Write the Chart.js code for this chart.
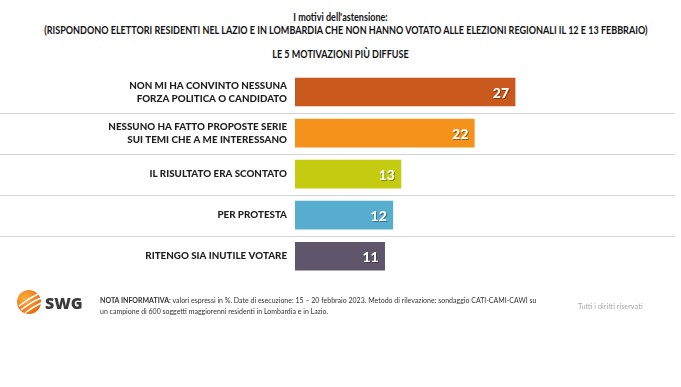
<!DOCTYPE html>
<html>
<head>
<meta charset="utf-8">
<script src="https://cdn.jsdelivr.net/npm/chart.js@4.4.1/dist/chart.umd.min.js"></script>
<style>
  html, body { margin: 0; padding: 0; background: #fff; }
  body { width: 681px; height: 387px; position: relative; overflow: hidden; font-family: Lato, "Open Sans", sans-serif; color: #222; }
  #wrap { position: absolute; left: 0; top: 0; width: 681px; height: 298px; }
  .t { position: absolute; left: 0; width: 681px; text-align: center; font-weight: bold; font-size: 10.4px; white-space: nowrap; transform: scaleX(0.87); color: #111; }
  #logo { position: absolute; left: 16px; top: 289px; }
  #swg { position: absolute; left: 45px; top: 292px; font-family: "Open Sans", sans-serif; font-weight: 800; font-size: 16px; color: #3a3a3a; }
  #note { position: absolute; left: 100px; top: 295px; font-size: 7px; line-height: 11px; color: #333; }
  #rights { position: absolute; left: 578px; top: 302px; font-size: 7.3px; color: #aaa; }
</style>
</head>
<body>
<div class="t" style="top:11px">I motivi dell'astensione:</div>
<div class="t" style="top:24px">(RISPONDONO ELETTORI RESIDENTI NEL LAZIO E IN LOMBARDIA CHE NON HANNO VOTATO ALLE ELEZIONI REGIONALI IL 12 E 13 FEBBRAIO)</div>
<div class="t" style="top:48px">LE 5 MOTIVAZIONI PIÙ DIFFUSE</div>
<div id="wrap"><canvas id="chart"></canvas></div>
<svg id="logo" width="26" height="26" viewBox="0 0 26 26">
  <defs>
    <radialGradient id="g" cx="35%" cy="35%" r="70%">
      <stop offset="0%" stop-color="#fbb040"/>
      <stop offset="100%" stop-color="#e86a10"/>
    </radialGradient>
  </defs>
  <circle cx="13" cy="13" r="12" fill="url(#g)"/>
  <path d="M3 17 Q13 9 24 4" stroke="#fff" stroke-width="1.4" fill="none"/>
  <path d="M5 21 Q15 13 25 9" stroke="#fff" stroke-width="1.4" fill="none"/>
  <path d="M9 24 Q17 18 25 14" stroke="#fff" stroke-width="1.4" fill="none"/>
</svg>
<div id="swg">SWG</div>
<div id="note"><b>NOTA INFORMATIVA:</b> valori espressi in %. Date di esecuzione: 15 – 20 febbraio 2023. Metodo di rilevazione: sondaggio CATI-CAMI-CAWI su<br>un campione di 600 soggetti maggiorenni residenti in Lombardia e in Lazio.</div>
<div id="rights">Tutti i diritti riservati</div>
<script>
const labels = [
  ['NON MI HA CONVINTO NESSUNA', 'FORZA POLITICA O CANDIDATO'],
  ['NESSUNO HA FATTO PROPOSTE SERIE', 'SUI TEMI CHE A ME INTERESSANO'],
  'IL RISULTATO ERA SCONTATO',
  'PER PROTESTA',
  'RITENGO SIA INUTILE VOTARE'
];
const values = [27, 22, 13, 12, 11];
const colors = ['#c9581c', '#f4921c', '#c4cb10', '#56adcd', '#5f566c'];

// lines between the categories, across the full width
const separators = {
  id: 'separators',
  beforeDatasetsDraw(chart) {
    const y = chart.scales.y;
    const ctx = chart.ctx;
    ctx.save();
    ctx.strokeStyle = '#d4d4d4';
    ctx.lineWidth = 1;
    for (let i = 0; i < values.length - 1; i++) {
      const py = Math.round((y.getPixelForValue(i) + y.getPixelForValue(i + 1)) / 2) + 0.5;
      ctx.beginPath();
      ctx.moveTo(0, py);
      ctx.lineTo(675, py);
      ctx.stroke();
    }
    ctx.restore();
  }
};

// white numbers inside the bar ends
const valueLabels = {
  id: 'valueLabels',
  afterDatasetsDraw(chart) {
    const ctx = chart.ctx;
    const meta = chart.getDatasetMeta(0);
    ctx.save();
    ctx.font = '900 14px Lato, "Open Sans", sans-serif';
    ctx.textAlign = 'right';
    ctx.textBaseline = 'middle';
    meta.data.forEach((bar, i) => {
      ctx.fillStyle = 'rgba(0,0,0,0.35)';
      ctx.fillText(values[i], bar.x - 5, bar.y + 2);
      ctx.fillStyle = '#fff';
      ctx.fillText(values[i], bar.x - 6, bar.y + 1);
    });
    ctx.restore();
  }
};

new Chart(document.getElementById('chart'), {
  type: 'bar',
  data: {
    labels: labels,
    datasets: [{
      data: values,
      backgroundColor: colors,
      borderWidth: 0,
      barThickness: 28
    }]
  },
  options: {
    indexAxis: 'y',
    responsive: true,
    maintainAspectRatio: false,
    animation: false,
    layout: { padding: { left: 0, right: 141.5, top: 71.5, bottom: 13.5 } },
    plugins: { legend: { display: false }, tooltip: { enabled: false } },
    scales: {
      x: {
        min: 0, max: 30,
        display: false
      },
      y: {
        afterFit(scale) { scale.width = 295; },
        grid: { display: false, drawTicks: false },
        border: { display: false },
        ticks: {
          color: '#1e1e1e',
          padding: 8,
          font: { family: 'Lato, "Open Sans", sans-serif', size: 9.8, weight: '900', lineHeight: 1.35 }
        }
      }
    }
  },
  plugins: [separators, valueLabels]
});
</script>
</body>
</html>
